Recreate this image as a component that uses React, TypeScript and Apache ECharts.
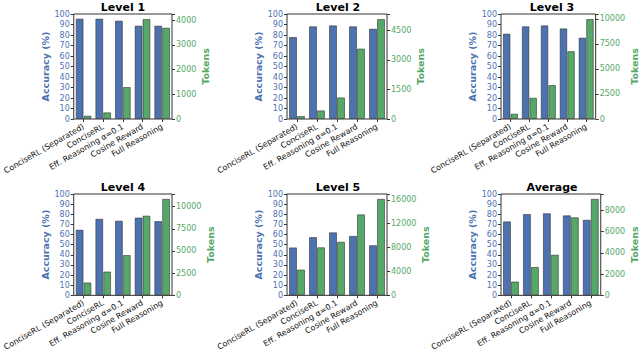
import React, { useEffect, useRef } from "react";
import * as echarts from "echarts";

const categories = [
  "ConciseRL (Separated)",
  "ConciseRL",
  "Eff. Reasoning α=0.1",
  "Cosine Reward",
  "Full Reasoning",
];
const panelTitles = ["Level 1", "Level 2", "Level 3", "Level 4", "Level 5", "Average"];

const accuracyL1 = [95.6, 95.6, 93.7, 88.9, 88.9];
const accuracyL2 = [78.1, 88.3, 89.2, 88.3, 86.0];
const accuracyL3 = [81.3, 88.3, 89.2, 86.3, 77.5];
const accuracyL4 = [64.8, 75.6, 73.7, 76.8, 73.3];
const accuracyL5 = [47.3, 57.5, 62.2, 58.7, 49.5];
const accuracyAvg = [73.0, 80.3, 81.0, 79.0, 74.6];

const tokensL1 = [135, 270, 1294, 4045, 3693];
const tokensL2 = [152, 438, 1096, 3575, 5076];
const tokensL3 = [532, 2126, 3389, 6777, 9980];
const tokensL4 = [1455, 2690, 4545, 8982, 10873];
const tokensL5 = [4324, 8054, 8973, 13568, 16162];
const tokensAvg = [1308, 2676, 3832, 7360, 9094];

const tokenTickSteps = [1000, 1500, 2500, 2500, 4000, 2000];
const accuracyTicks = 10;

const accuracySets = [accuracyL1, accuracyL2, accuracyL3, accuracyL4, accuracyL5, accuracyAvg];
const tokenSets = [tokensL1, tokensL2, tokensL3, tokensL4, tokensL5, tokensAvg];

const BLUE = "#4C72B0";
const GREEN = "#55A868";
const FONT = "DejaVu Sans";

export default function App() {
  const ref = useRef<HTMLDivElement>(null);

  useEffect(() => {
    document.body.style.margin = "0";
    if (!ref.current) return;
    const chart = echarts.init(ref.current, undefined, { renderer: "svg" });

    const colLeft = [72, 287, 501];
    const rowTop = [14, 194];
    const plotW = 100;
    const plotH = 105;

    const grids: any[] = [];
    const xAxes: any[] = [];
    const yAxes: any[] = [];
    const series: any[] = [];
    const graphics: any[] = [];

    for (let i = 0; i < 6; i++) {
      const col = i % 3;
      const row = Math.floor(i / 3);
      const left = colLeft[col];
      const top = rowTop[row];
      grids.push({
        left,
        top,
        width: plotW,
        height: plotH,
        show: true,
        borderColor: "#333",
        borderWidth: 1,
        backgroundColor: "transparent",
      });
      graphics.push({
        type: "text",
        x: left + plotW / 2 + 1,
        y: top - 7,
        style: {
          text: panelTitles[i],
          textAlign: "center",
          textVerticalAlign: "middle",
          fontFamily: FONT,
          fontWeight: "bold",
          fontSize: 11,
          fill: "#000",
        },
      });
      xAxes.push({
        type: "category",
        gridIndex: i,
        data: categories,
        axisLine: { show: false },
        axisTick: { show: true, alignWithLabel: true, length: 3, lineStyle: { color: "#333" } },
        axisLabel: {
          interval: 0,
          rotate: 30,
          fontFamily: FONT,
          fontSize: 8,
          color: "#111",
          margin: 7,
        },
        splitLine: { show: false },
      });
      yAxes.push({
        type: "value",
        gridIndex: i,
        position: "left",
        min: 0,
        max: 100,
        interval: accuracyTicks,
        name: "Accuracy (%)",
        nameLocation: "middle",
        nameRotate: 90,
        nameGap: 19,
        nameTextStyle: { fontFamily: FONT, fontWeight: "bold", fontSize: 9.5, color: BLUE },
        axisLine: { show: false },
        axisTick: { show: true, length: 3, lineStyle: { color: "#333" } },
        axisLabel: { fontFamily: FONT, fontSize: 8, color: BLUE, margin: 4 },
        splitLine: { show: false },
      });
      const toks = tokenSets[i];
      const step = tokenTickSteps[i];
      const tokMax = Math.max(...toks) * 1.05;
      const wide = String(Math.floor(tokMax / step) * step).length >= 5;
      yAxes.push({
        type: "value",
        gridIndex: i,
        position: "right",
        min: 0,
        max: tokMax,
        interval: step,
        name: "Tokens",
        nameLocation: "middle",
        nameRotate: 90,
        nameGap: wide ? 27 : 21,
        nameTextStyle: { fontFamily: FONT, fontWeight: "bold", fontSize: 9.5, color: GREEN },
        axisLine: { show: false },
        axisTick: { show: true, length: 3, lineStyle: { color: "#333" } },
        axisLabel: {
          fontFamily: FONT,
          fontSize: 8,
          color: GREEN,
          margin: 4,
          formatter: (v: number) => (Math.abs(v / step - Math.round(v / step)) < 1e-6 ? String(v) : ""),
        },
        splitLine: { show: false },
      });
      series.push({
        type: "bar",
        name: "Accuracy",
        xAxisIndex: i,
        yAxisIndex: 2 * i,
        data: accuracySets[i],
        barWidth: "40%",
        barGap: "0%",
        itemStyle: { color: BLUE, borderColor: "rgba(40,40,40,0.55)", borderWidth: 1 },
      });
      series.push({
        type: "bar",
        name: "Tokens",
        xAxisIndex: i,
        yAxisIndex: 2 * i + 1,
        data: toks,
        barWidth: "40%",
        barGap: "0%",
        itemStyle: { color: GREEN, borderColor: "rgba(40,40,40,0.55)", borderWidth: 1 },
      });
    }

    chart.setOption({
      animation: false,
      backgroundColor: "#fff",
      grid: grids,
      xAxis: xAxes,
      yAxis: yAxes,
      series,
      graphic: graphics,
    });

    return () => chart.dispose();
  }, []);

  return (
    <div
      ref={ref}
      style={{ position: "fixed", left: 0, top: 0, width: 640, height: 353 }}
    />
  );
}
